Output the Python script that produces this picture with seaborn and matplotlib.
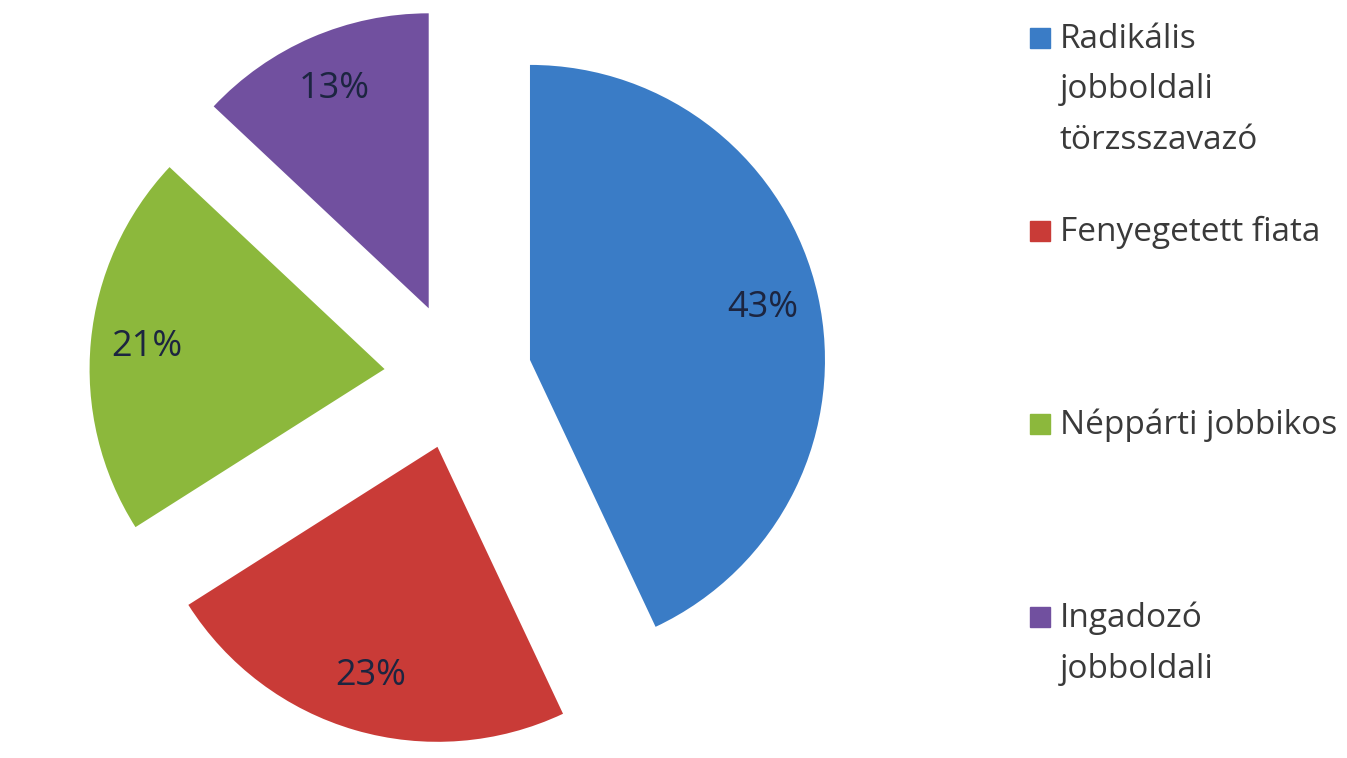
import matplotlib
matplotlib.use("Agg")
import matplotlib.pyplot as plt
import seaborn as sns

labels = ["Radikális\njobboldali\ntörzsszavazó", "Fenyegetett fiata",
          "Néppárti jobbikos", "Ingadozó\njobboldali"]
shares = [43, 23, 21, 13]
colors = ["#3A7CC6", "#C93B37", "#8CB83C", "#71509F"]

sns.set_theme(style="white")
plt.rcParams['font.family'] = ['Open Sans', 'DejaVu Sans']

fig = plt.figure(figsize=(13.47, 7.58), dpi=100)
ax = fig.add_axes([0, 0, 1, 1])

wedges, texts, autotexts = ax.pie(
    shares, colors=colors, startangle=90, counterclock=False,
    explode=[0.25] * len(shares), autopct='%d%%', pctdistance=0.81,
    wedgeprops=dict(linewidth=0),
    textprops=dict(color='#1c2540', fontsize=26))

# place the pie: centre ~ (458, 376) px, radius ~295 px
px = 295
ax.set_aspect('auto')
ax.set_xlim(-458 / px, (1347 - 458) / px)
ax.set_ylim(-(758 - 376) / px, 376 / px)
ax.axis('off')

# legend drawn by hand: square handle next to the first text line
top = 1 - 28 / 758
step = 193 / 758
for i, (lab, col) in enumerate(zip(labels, colors)):
    y = top - i * step
    fig.patches.append(plt.Rectangle((1030 / 1347, y - 20 / 758), 20 / 1347, 20 / 758,
                                     transform=fig.transFigure, color=col))
    fig.text(1060 / 1347, y + 5 / 758, lab, va='top', ha='left', fontsize=24,
             color='#3a3a3a', linespacing=1.7)

fig.savefig("out.png", dpi=100, facecolor='white')
